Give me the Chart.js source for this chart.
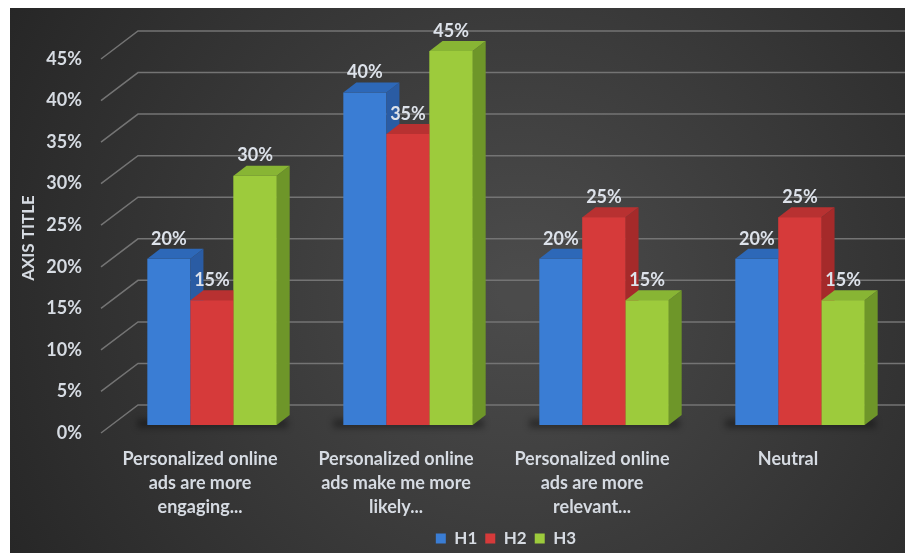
<!DOCTYPE html>
<html>
<head>
<meta charset="utf-8">
<script src="https://cdn.jsdelivr.net/npm/chart.js@4/dist/chart.umd.min.js"></script>
<style>
  html, body { margin: 0; padding: 0; background: #ffffff; }
  #wrap { width: 905px; height: 553px; }
</style>
</head>
<body>
<div id="wrap"><canvas id="hChart" width="905" height="553"></canvas></div>
<script>
// chart data
var categories = [
    ['Personalized online', 'ads are more', 'engaging...'],
    ['Personalized online', 'ads make me more', 'likely...'],
    ['Personalized online', 'ads are more', 'relevant...'],
    'Neutral'
];
var seriesNames = ['H1', 'H2', 'H3'];
var h1Values = [20, 40, 20, 20];
var h2Values = [15, 35, 25, 25];
var h3Values = [30, 45, 15, 15];
var yMax = 45;
var yStep = 5;
var axisTitle = 'AXIS TITLE';

// colours: front, side, top
var frontColors = ['#3a7dd4', '#d63a3a', '#9dcb3c'];
var sideColors = ['#2a5ca4', '#a52a2a', '#6e9629'];
var topColors = ['#2d68b8', '#b83131', '#88b534'];
var textColor = '#d6dbe2';
var DX = 13, DY = -10;

// dark panel behind the chart
var panelBg = {
    id: 'panelBg',
    beforeDraw: function(chart) {
        var ctx = chart.ctx, w = chart.width, h = chart.height;
        ctx.save();
        ctx.fillStyle = '#ffffff';
        ctx.fillRect(0, 0, w, h);
        var g = ctx.createRadialGradient(520, 290, 20, 520, 290, 620);
        g.addColorStop(0, '#4b4b4b');
        g.addColorStop(1, '#242424');
        ctx.fillStyle = g;
        ctx.fillRect(10, 8, w - 10, h - 8);
        ctx.restore();
    }
};

// back wall grid lines with the slanted floor part
var backGrid = {
    id: 'backGrid',
    beforeDatasetsDraw: function(chart) {
        var ctx = chart.ctx, ys = chart.scales.y, a = chart.chartArea;
        ctx.save();
        ctx.strokeStyle = '#747474';
        ctx.lineWidth = 1.5;
        ys.ticks.forEach(function(t) {
            var yb = ys.getPixelForValue(t.value) - 20;
            ctx.beginPath();
            ctx.moveTo(a.left - 13, yb + 28);
            ctx.lineTo(a.left + 24, yb);
            ctx.lineTo(chart.width, yb);
            ctx.stroke();
        });
        // soft shadow under the bars
        var n = chart.data.datasets.length;
        for (var i = 0; i < chart.data.labels.length; i++) {
            var first = chart.getDatasetMeta(0).data[i];
            var last = chart.getDatasetMeta(n - 1).data[i];
            var l = first.x - first.width / 2, r = last.x + last.width / 2 + DX;
            var b = first.base;
            ctx.fillStyle = 'rgba(0,0,0,0.35)';
            ctx.filter = 'blur(3px)';
            ctx.fillRect(l - 10, b - 6, r - l + 8, 9);
            ctx.filter = 'none';
        }
        ctx.restore();
    }
};

// side and top faces, then value labels
var bars3d = {
    id: 'bars3d',
    afterDatasetsDraw: function(chart) {
        var ctx = chart.ctx;
        var n = chart.data.datasets.length;
        ctx.save();
        for (var i = 0; i < chart.data.labels.length; i++) {
            for (var d = 0; d < n; d++) {
                var el = chart.getDatasetMeta(d).data[i];
                var p = el.getProps(['x', 'y', 'base', 'width'], true);
                var l = p.x - p.width / 2, r = p.x + p.width / 2;
                ctx.fillStyle = sideColors[d];
                ctx.beginPath();
                ctx.moveTo(r, p.y);
                ctx.lineTo(r + DX, p.y + DY);
                ctx.lineTo(r + DX, p.base + DY);
                ctx.lineTo(r, p.base);
                ctx.closePath();
                ctx.fill();
                ctx.fillStyle = topColors[d];
                ctx.beginPath();
                ctx.moveTo(l, p.y);
                ctx.lineTo(r, p.y);
                ctx.lineTo(r + DX, p.y + DY);
                ctx.lineTo(l + DX, p.y + DY);
                ctx.closePath();
                ctx.fill();
                if (d + 1 < n) {
                    chart.getDatasetMeta(d + 1).data[i].draw(ctx);
                }
            }
        }
        ctx.font = 'bold 18px Lato';
        ctx.fillStyle = '#dde2ea';
        ctx.textAlign = 'center';
        ctx.textBaseline = 'bottom';
        for (var d2 = 0; d2 < n; d2++) {
            var meta = chart.getDatasetMeta(d2);
            meta.data.forEach(function(el, idx) {
                var v = chart.data.datasets[d2].data[idx];
                ctx.fillText(v + '%', el.x, el.y + DY - 1);
            });
        }
        ctx.restore();
    }
};

function initChart() {
    var ctx = document.getElementById('hChart');
    var values = [h1Values, h2Values, h3Values];
    var datasets = seriesNames.map(function(name, k) {
        return {
            label: name,
            data: values[k],
            backgroundColor: frontColors[k],
            borderWidth: 0,
            barPercentage: 1,
            categoryPercentage: 0.66
        };
    });

    new Chart(ctx, {
        type: 'bar',
        data: { labels: categories, datasets: datasets },
        plugins: [panelBg, backGrid, bars3d],
        options: {
            responsive: false,
            animation: false,
            layout: { padding: { top: 51, left: 10, right: 7, bottom: -4 } },
            plugins: {
                tooltip: { enabled: false },
                legend: {
                    position: 'bottom',
                    fullSize: false,
                    labels: {
                        color: textColor,
                        font: { family: 'Lato', size: 17, weight: 'bold' },
                        boxWidth: 10,
                        boxHeight: 10,
                        padding: 8
                    }
                }
            },
            scales: {
                y: {
                    min: 0,
                    max: yMax,
                    grid: { display: false, drawTicks: false },
                    border: { display: false },
                    ticks: {
                        stepSize: yStep,
                        padding: 32,
                        labelOffset: 8,
                        color: textColor,
                        font: { family: 'Lato', size: 18, weight: 'bold' },
                        callback: function(v) { return v + '%'; }
                    },
                    title: {
                        display: true,
                        text: axisTitle,
                        color: textColor,
                        padding: { top: 8, bottom: 4 },
                        font: { family: 'Lato', size: 17, weight: 'bold' }
                    },
                    afterFit: function(scale) { scale.width = 104; }
                },
                x: {
                    grid: { display: false, drawTicks: false },
                    border: { display: false },
                    ticks: {
                        padding: 22,
                        labelOffset: -12,
                        maxRotation: 0,
                        autoSkip: false,
                        color: textColor,
                        font: { family: 'Lato', size: 18, weight: 'bold', lineHeight: 1.34 }
                    },
                    afterFit: function(scale) { scale.height = 97; }
                }
            }
        }
    });
}

document.addEventListener('DOMContentLoaded', function() {
    initChart();
});
</script>
</body>
</html>
